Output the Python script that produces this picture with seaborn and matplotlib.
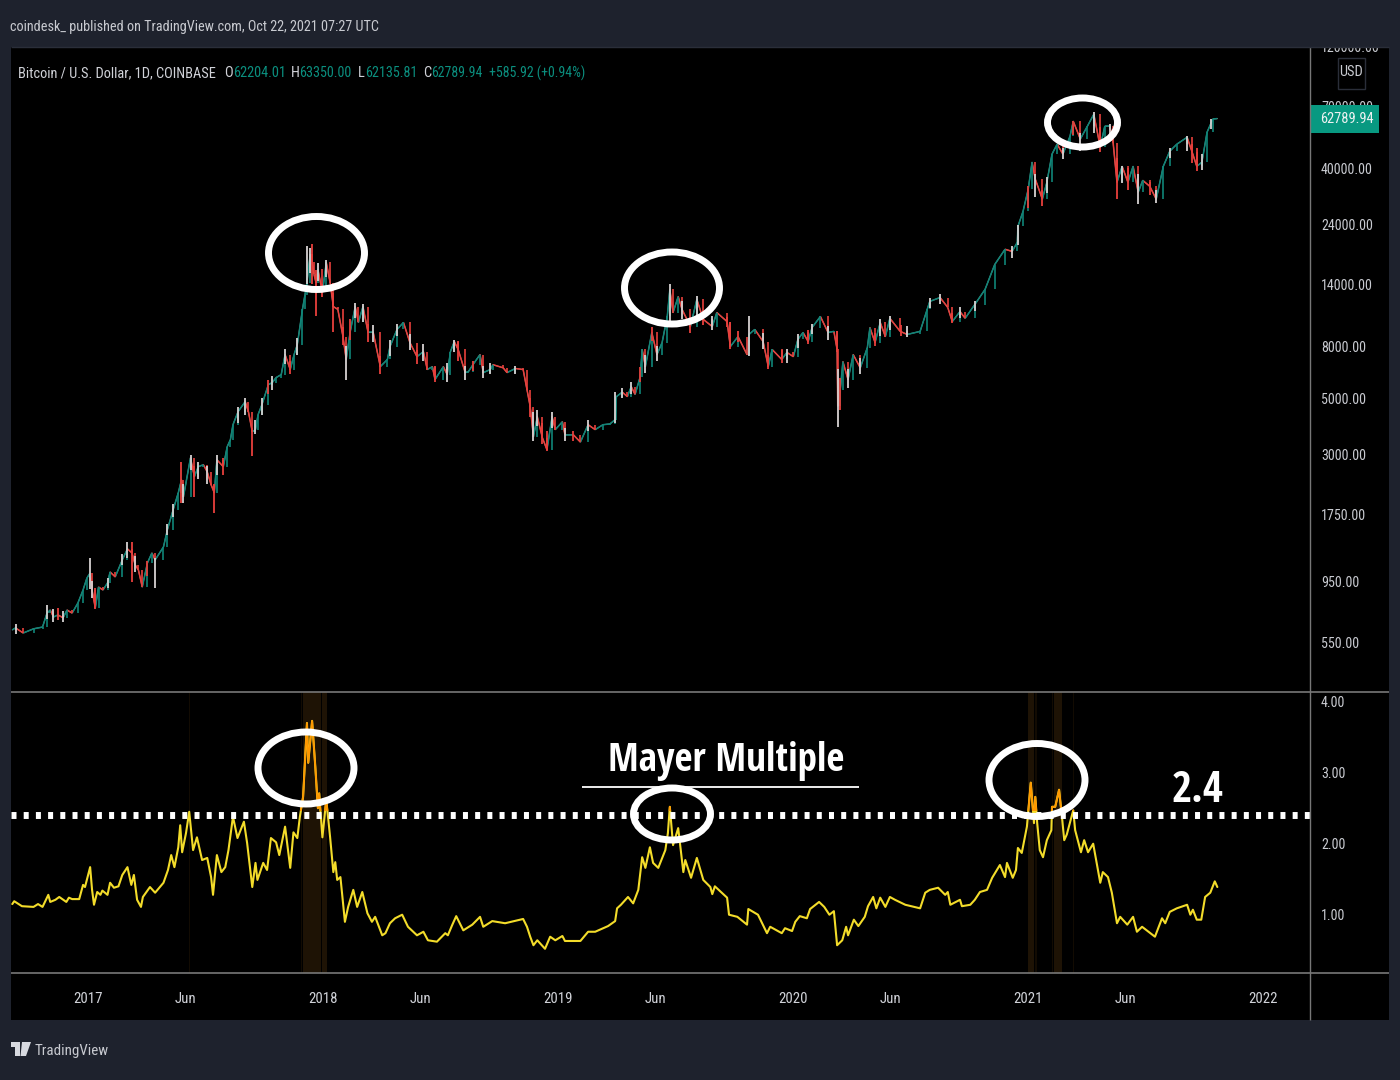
import pandas as pd
import numpy as np
import seaborn as sns
import matplotlib
matplotlib.use('Agg')
import matplotlib.pyplot as plt
import matplotlib.dates as mdates
from matplotlib import font_manager as fm
from matplotlib.collections import LineCollection
from matplotlib.patches import Ellipse, Rectangle, Polygon
from matplotlib.textpath import TextPath

# Price path, days are counted from 2017-01-01
price_days = [-118,-113,-101,-85,-71,-64,-59,-54,-47,-39,-33,-25,-16,-8,-2,3,6,11,16,23,30,34,42,53,61,68,73,78,84,92,99,104,117,123,132,140,145,148,159,165,171,179,185,191,196,200,210,216,221,225,233,244,249,255,260,264,270,280,286,292,300,306,314,320,325,333,337,340,345,348,351,354,357,364,370,376,381,388,396,401,407,415,420,427,435,443,454,465,469,480,490,500,511,521,527,535,539,552,558,563,569,575,586,591,598,609,614,625,629,645,651,664,676,682,687,692,698,706,713,721,726,737,741,754,765,777,788,800,811,819,821,830,838,844,850,858,861,866,876,884,892,900,904,909,917,923,936,946,956,970,977,993,998,1010,1024,1027,1036,1049,1057,1063,1078,1086,1096,1103,1111,1119,1125,1138,1150,1159,1164,1165,1169,1173,1181,1189,1200,1211,1215,1223,1231,1239,1246,1262,1273,1293,1304,1308,1324,1336,1343,1355,1363,1378,1394,1409,1425,1436,1444,1445,1453,1461,1467,1472,1483,1490,1498,1506,1515,1526,1531,1542,1553,1563,1573,1580,1588,1593,1599,1607,1616,1624,1632,1639,1650,1660,1671,1681,1692,1708,1716,1723,1731,1739,1748,1755]
price_close = [614,625,597,620,630,715,735,690,703,685,735,715,783,881,982,1028,881,748,905,881,939,1037,992,1157,1278,1232,1106,1057,905,1125,1232,1157,1301,1518,1820,2123,2389,2047,2916,2456,2688,2738,2568,2283,2123,2864,2688,3222,3433,3932,4427,4845,4427,3690,3760,4306,4713,5653,5753,6023,6188,7420,6479,7420,8118,11165,12770,14240,18370,17080,15320,14240,16048,13010,17080,14240,11450,11165,8730,7095,9060,11450,9920,11450,9060,9060,6650,7095,7970,9313,9920,8270,7280,7620,6479,6650,5917,6650,6188,7620,8345,7768,6300,6360,6770,7420,6300,6479,6770,6580,6300,6540,6479,5404,4630,3526,4230,3490,3136,4230,3760,4040,3590,3590,3360,3932,3760,3932,3960,4117,5070,5280,5070,5550,5170,6075,7768,6650,9060,7420,8270,10470,13386,10850,12540,11165,9560,12225,10197,9560,10850,10000,7970,8730,7420,8900,9313,8345,6650,7768,7095,7560,7280,8506,9060,8345,9470,10470,9060,9150,7768,4650,5404,6960,5917,7420,6580,7900,9470,8270,9920,8730,10300,9150,8900,9150,11165,12000,12430,11360,10000,10950,10300,11670,13386,16760,19240,18870,20470,23660,27120,33100,42300,36300,30280,35260,45500,49800,45500,53500,61300,52170,58600,65300,48460,58600,58600,50500,35260,40760,35260,40760,32230,35900,34000,30280,40760,46700,49800,53000,46200,40760,42300,55500,62540,62789.94]

# Wicks that stick out of the price path
grey_days = [-113,-64,-54,-39,3,6,30,53,61,73,104,123,132,148,159,171,185,200,233,244,260,270,286,306,325,340,345,357,370,401,415,427,443,469,480,500,521,558,569,586,614,625,664,692,698,721,741,777,819,830,844,866,884,904,923,946,970,1027,1049,1086,1103,1125,1150,1165,1181,1200,1231,1246,1273,1308,1324,1355,1378,1436,1445,1472,1490,1515,1542,1563,1588,1607,1632,1660,1681,1708,1731,1745]
grey_lows = [590,680,660,660,890,820,900,1100,1180,1040,897,1450,1700,1940,2600,2400,2300,2500,4000,4300,3600,4300,5400,6800,7400,14000,15500,14500,15000,5900,10300,10000,8300,7300,8800,7700,7000,5800,7600,5900,6000,6200,6200,3400,3900,3800,3400,3700,4000,5000,5200,6300,7000,10000,10200,10400,9300,7300,7800,6900,7900,8900,8500,3860,5500,6200,8800,9300,8700,11300,11700,10300,11000,17800,20000,31000,32000,43500,47000,55000,54000,35000,29000,29300,44000,47000,39500,57000]
grey_highs = [650,770,740,730,1178,960,980,1220,1361,1200,1180,1600,1920,2300,3000,2800,2700,3000,4600,5000,4100,5000,6100,7800,8600,19740,19500,17000,17500,8000,11800,11700,9700,8500,9800,8900,8200,6900,8500,6700,6700,6900,6700,4400,4500,4400,3800,4100,5300,5500,5800,7400,8000,14100,12000,12600,10500,10470,9000,7800,8900,9800,9600,6500,6500,7200,10200,10500,9600,12400,12800,11400,12000,19800,24000,38000,37000,48000,55000,66800,60000,41000,38000,33000,48000,53500,45500,62500]
red_days = [-47,11,68,92,145,165,196,210,255,280,314,348,354,364,381,396,407,435,454,511,539,575,598,687,706,713,754,858,876,936,956,993,998,1010,1057,1078,1119,1164,1168,1223,1263,1343,1461,1483,1531,1573,1599,1616,1650,1716,1723]
red_lows = [670,745,947,1000,1938,2047,1770,2500,2970,5200,6200,14000,10470,12500,9060,8100,8500,8300,6200,6800,5800,7000,6400,4200,3300,3100,3400,5800,8400,9000,9700,9500,7800,8300,6500,6900,8200,7600,4500,8000,8800,9900,28000,28500,54000,46500,30280,33000,31500,42000,39000]
red_highs = [750,900,1361,1150,2813,2700,2300,2900,3800,5900,7000,20100,16000,14000,13000,9500,10200,9800,7300,7700,6700,8400,7000,5000,4000,3700,3700,6600,9500,10300,11000,10400,10000,9200,7400,7700,9300,9200,6000,9000,9700,10800,34000,33000,61500,58000,44000,40000,35500,50000,48000]

# Mayer Multiple
mayer_days = [-118,-115,-103,-85,-78,-71,-62,-59,-51,-45,-34,-30,-25,-14,-8,-5,3,6,9,14,19,22,30,34,40,47,53,61,67,71,76,82,85,96,104,117,124,129,134,140,143,146,152,157,163,169,177,185,191,194,200,207,213,218,225,232,242,247,255,260,263,272,278,284,292,297,306,314,319,325,329,334,340,342,345,348,353,357,359,364,370,376,381,384,387,392,399,404,412,418,426,434,441,446,457,462,469,477,488,497,511,521,528,542,555,559,566,572,583,597,609,614,628,648,676,682,687,692,698,710,718,726,737,741,765,777,788,808,819,822,828,839,847,855,861,866,873,878,886,897,901,904,909,917,925,928,937,946,956,967,970,974,993,996,1009,1024,1026,1041,1055,1060,1078,1083,1094,1099,1106,1117,1122,1136,1144,1152,1159,1164,1172,1178,1181,1190,1197,1207,1212,1220,1225,1231,1239,1246,1254,1270,1293,1301,1308,1321,1332,1336,1340,1355,1358,1371,1378,1386,1397,1405,1417,1425,1428,1437,1442,1445,1451,1459,1465,1470,1472,1475,1479,1484,1490,1497,1498,1503,1509,1514,1517,1521,1531,1534,1543,1548,1554,1562,1573,1577,1585,1591,1599,1604,1615,1624,1630,1638,1658,1669,1674,1681,1692,1708,1713,1717,1723,1730,1736,1744,1751,1755]
mayer_vals = [1.14,1.18,1.11,1.10,1.14,1.10,1.27,1.17,1.20,1.24,1.17,1.23,1.21,1.21,1.41,1.38,1.66,1.34,1.13,1.31,1.27,1.33,1.27,1.44,1.37,1.39,1.55,1.66,1.41,1.55,1.20,1.10,1.24,1.38,1.30,1.44,1.62,1.83,1.66,1.94,2.25,1.87,2.14,2.44,1.90,2.08,1.76,1.79,1.52,1.27,1.83,1.59,1.66,1.90,2.37,2.07,2.30,2.00,1.38,1.72,1.48,1.72,1.62,2.07,2.01,1.83,2.23,1.65,2.15,2.07,2.37,2.65,3.69,3.13,3.42,3.72,3.07,2.49,2.70,2.08,2.61,2.08,1.59,1.73,1.48,1.52,0.89,1.10,1.34,1.10,1.31,1.01,0.89,0.96,0.70,0.73,0.87,0.94,0.99,0.82,0.70,0.75,0.63,0.61,0.73,0.70,0.85,0.97,0.77,0.85,0.96,0.82,0.90,0.87,0.93,0.82,0.68,0.56,0.63,0.51,0.68,0.63,0.69,0.62,0.62,0.75,0.75,0.83,0.90,1.08,1.13,1.24,1.15,1.34,1.80,1.65,1.94,1.72,1.65,1.90,2.14,2.51,1.97,2.21,1.59,1.76,1.51,1.79,1.48,1.38,1.28,1.39,1.23,0.99,0.96,0.85,1.07,0.99,0.73,0.82,0.73,0.80,0.76,0.89,0.97,0.94,1.07,1.17,1.10,0.99,1.04,0.56,0.63,0.82,0.70,0.92,0.83,0.96,1.11,1.24,1.08,1.23,1.10,1.24,1.20,1.13,1.08,1.30,1.34,1.37,1.27,1.31,1.13,1.20,1.11,1.13,1.20,1.31,1.34,1.51,1.69,1.52,1.72,1.51,1.62,1.93,1.86,2.23,2.85,2.28,2.65,2.28,1.90,1.80,2.04,2.18,2.51,2.51,2.75,2.32,2.04,2.12,2.46,2.18,1.87,2.04,1.87,1.99,1.44,1.59,1.52,1.30,0.87,0.96,0.85,0.96,0.75,0.82,0.68,0.94,0.87,1.03,1.08,1.13,0.99,1.06,0.92,0.92,1.24,1.30,1.46,1.38]

# Periods where the indicator is flagged
strong_starts = [334,364,1461,1501]
strong_ends = [362,371,1470,1514]
faint_starts = [157,331,904,1472,1498,1531]
faint_ends = [158,333,905,1475,1500,1532]

price_ticks = [550,950,1750,3000,5000,8000,14000,24000,40000,70000,120000]
mayer_ticks = [1,2,3,4]
time_ticks = ['2017-01-01','2017-06-01','2018-01-01','2018-06-01','2019-01-01','2019-06-01','2020-01-01','2020-06-01','2021-01-01','2021-06-01','2022-01-01']
time_labels = ['2017','Jun','2018','Jun','2019','Jun','2020','Jun','2021','Jun','2022']

BG = '#1e222d'
TEAL = '#0f8578'
RED = '#e8403c'
YELLOW = '#f3dc2a'
ORANGE = '#ff9800'
W, H = 1400, 1080
SANS = ('DejaVu Sans', 'DejaVu Sans Condensed', 'Liberation Sans', 'Liberation Sans Narrow', 'Roboto',
        'Roboto Condensed', 'Open Sans', 'Open Sans Condensed', 'Lato', 'Inter', 'Noto Sans')


def px_rect(x0, y0, x1, y1):
    return [x0 / W, 1 - y1 / H, (x1 - x0) / W, (y1 - y0) / H]


def to_num(days):
    return mdates.date2num(pd.Timestamp('2017-01-01') + pd.to_timedelta(days, unit='D'))


def narrowest_font(weights):
    # the screenshot's text is squeezed, so take whichever installed sans runs narrowest
    best, best_w = None, 1e9
    for f in fm.fontManager.ttflist:
        if f.name not in SANS or f.style != 'normal' or f.weight not in weights:
            continue
        try:
            wd = TextPath((0, 0), 'Mayer 62789.94 Multiple', size=100, prop=fm.FontProperties(fname=f.fname)).get_extents().width
        except Exception:
            continue
        if 0 < wd < best_w:
            best, best_w = f.fname, wd
    return best


REG = narrowest_font(('normal', 400, 'regular'))
BOLD = narrowest_font(('bold', 700)) or REG


def fit_size(s, px, fname=REG):
    # font size in points that makes s come out px wide at dpi 100
    wd = TextPath((0, 0), s, size=100, prop=fm.FontProperties(fname=fname)).get_extents().width
    return px * 72.0 / wd


sns.set_theme(style='dark')

fig = plt.figure(figsize=(14, 10.8), dpi=100, facecolor=BG)
fig.add_artist(Rectangle((11 / W, 1 - 1020 / H), 1378 / W, 973 / H, transform=fig.transFigure,
                         fc='black', ec='none', zorder=-5))

ax = fig.add_axes(px_rect(11, 47, 1310, 692), facecolor='black')
ax2 = fig.add_axes(px_rect(11, 692, 1310, 973), facecolor='black')

price = pd.DataFrame({'date': to_num(np.array(price_days)), 'close': price_close})
mayer = pd.DataFrame({'date': to_num(np.array(mayer_days)), 'value': mayer_vals})

# --- price pane
sns.lineplot(data=price, x='date', y='close', ax=ax, color='#8a8a8a', lw=0.8, zorder=2)
pts = np.column_stack([price['date'], price['close']])
segs = np.stack([pts[:-1], pts[1:]], axis=1)
seg_cols = [TEAL if b >= a else RED for a, b in zip(price_close[:-1], price_close[1:])]
ax.add_collection(LineCollection(segs, colors=seg_cols, linewidths=1.1, zorder=3))
# candle bodies, from the previous close to this one
ax.vlines(price['date'][1:], price_close[:-1], price_close[1:], colors=seg_cols, lw=1.2, zorder=3)
ax.vlines(to_num(np.array(red_days)), red_lows, red_highs, color=RED, lw=1.3, zorder=4)
ax.vlines(to_num(np.array(grey_days)), grey_lows, grey_highs, color='#d6d2d2', lw=1.3, zorder=5)
ax.set_yscale('log')
ax.set_ylim(350, 120000)
ax.set_yticks(price_ticks)
ax.set_yticklabels(['%.2f' % p for p in price_ticks])
ax.yaxis.set_minor_locator(plt.NullLocator())

# --- mayer pane
for s, e in zip(faint_starts, faint_ends):
    ax2.axvspan(to_num(s), to_num(e), color='#120b02', lw=0, zorder=1)
for s, e in zip(strong_starts, strong_ends):
    ax2.axvspan(to_num(s), to_num(e), color='#1e1305', lw=0, zorder=1)
sns.lineplot(data=mayer, x='date', y='value', ax=ax2, color=YELLOW, lw=1.5, zorder=3)
sns.lineplot(data=mayer, x='date', y='value', ax=ax2, color=ORANGE, lw=1.3, zorder=4)
over_line = ax2.get_lines()[-1]
over_line.set_clip_path(Rectangle((to_num(-200), 2.45), 3000, 3, transform=ax2.transData))
ax2.axhline(2.4, color='white', lw=5, linestyle=(0, (0.72, 1.037)), zorder=5)
ax2.set_ylim(0.169, 4.127)
ax2.set_yticks(mayer_ticks)
ax2.set_yticklabels(['%.2f' % v for v in mayer_ticks])

tick_fp = fm.FontProperties(fname=REG, size=fit_size('40000.00', 51))
for a in (ax, ax2):
    a.set_xlim(to_num(-120), to_num(1899))
    a.set_xlabel('')
    a.set_ylabel('')
    a.grid(False)
    a.yaxis.tick_right()
    a.tick_params(axis='y', length=0, pad=8, labelcolor='#c8cad0')
    for t in a.get_yticklabels():
        t.set_fontproperties(tick_fp)
    for sp in a.spines.values():
        sp.set_visible(False)

ax.set_xticks([])
ax2.set_xticks(mdates.date2num(pd.to_datetime(time_ticks)))
ax2.set_xticklabels(time_labels)
ax2.tick_params(axis='x', length=0, pad=14, labelcolor='#d0d2d8')
for t in ax2.get_xticklabels():
    t.set_fontproperties(fm.FontProperties(fname=REG, size=fit_size('2017', 28)))

# --- hand drawn annotations and the TradingView chrome, in pixels
top = fig.add_axes([0, 0, 1, 1], zorder=10)
top.set_xlim(0, W)
top.set_ylim(H, 0)
top.axis('off')
top.patch.set_alpha(0)

top.add_patch(Rectangle((1311, 0), 89, 47, fc=BG, ec='none'))
top.hlines([692, 973], 11, 1389, color='#777777', lw=1.2)
top.vlines(1310, 47, 1020, color='#777777', lw=1.0)
top.hlines(46.5, 11, 1389, color='#2a2e39', lw=1)

rings = [(316.5, 253, 96, 73), (672, 288, 95, 72), (1082.5, 122.5, 70, 49),
         (306, 768, 96, 72), (672, 814, 77, 52), (1037, 780, 96, 73)]
for cx, cy, w, h in rings:
    top.add_patch(Ellipse((cx, cy), w, h, fill=False, ec='white', lw=5))


def label(x, y, s, color, size, ha='left', fname=REG):
    top.text(x, y, s, color=color, ha=ha, va='center', fontproperties=fm.FontProperties(fname=fname, size=size))


label(726, 761, 'Mayer Multiple', 'white', fit_size('Mayer Multiple', 232, BOLD), ha='center', fname=BOLD)
top.hlines(787, 582, 859, color='white', lw=1.3)
label(1198, 790, '2.4', 'white', fit_size('2.4', 50, BOLD), ha='center', fname=BOLD)

label(10, 27, 'coindesk_ published on TradingView.com, Oct 22, 2021 07:27 UTC', '#c8cad0',
      fit_size('coindesk_ published on TradingView.com, Oct 22, 2021 07:27 UTC', 371))
head_size = fit_size('Bitcoin / U.S. Dollar, 1D, COINBASE', 198)
label(18, 73, 'Bitcoin / U.S. Dollar, 1D, COINBASE', '#d0d2d8', head_size)
ohlc_keys = [(224, 'O'), (291, 'H'), (358, 'L'), (423, 'C')]
ohlc_vals = [(233, '62204.01', 50), (299, '63350.00', 51), (365, '62135.81', 49), (431, '62789.94', 50), (489, '+585.92 (+0.94%)', 95)]
for x, s in ohlc_keys:
    label(x, 73, s, '#d0d2d8', head_size)
for x, s, wd in ohlc_vals:
    label(x, 73, s, '#0b8f7f', fit_size(s, wd))

top.add_patch(Rectangle((1311, 105), 68, 28, fc='#089981', ec='none'))
label(1347, 119, '62789.94', '#eef2f2', fit_size('62789.94', 52), ha='center')
top.add_patch(Rectangle((1337.5, 57.5), 27, 31, fc='black', ec='#2a2e39', lw=1))
label(1350.5, 72, 'USD', '#c8cad0', fit_size('USD', 22), ha='center')

# logo
top.add_patch(Polygon([(11, 1042), (20, 1042), (20, 1056), (15, 1056), (15, 1047), (11, 1047)], fc='#d8dae0', ec='none'))
top.add_patch(Polygon([(22, 1042), (31, 1042), (26, 1056), (20.5, 1056)], fc='#d8dae0', ec='none'))
label(35, 1051, 'TradingView', '#c8cad0', fit_size('TradingView', 73))

fig.savefig('out.png', dpi=100, facecolor=BG)
